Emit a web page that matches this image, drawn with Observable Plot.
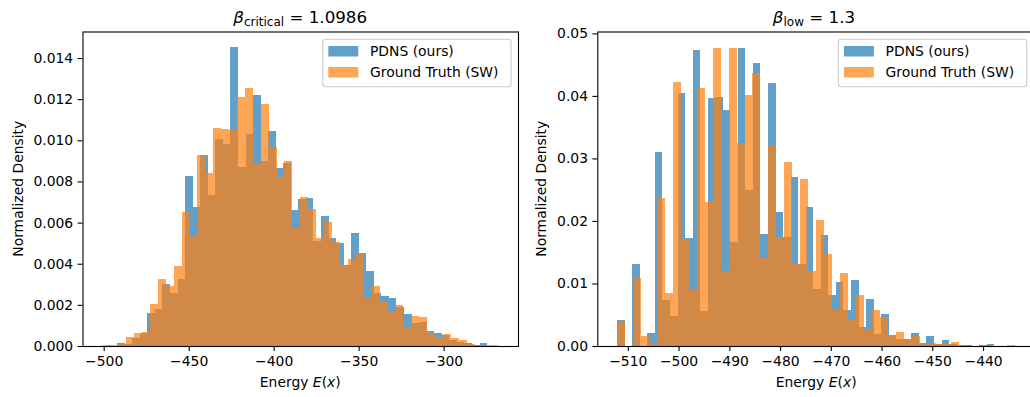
<!DOCTYPE html>
<html>
<head>
<meta charset="utf-8">
<script src="https://cdn.jsdelivr.net/npm/d3@7"></script>
<script src="https://cdn.jsdelivr.net/npm/@observablehq/plot@0.6"></script>
<style>
  html, body { margin: 0; padding: 0; background: white; overflow: hidden; width: 1030px; height: 397px; }
  #wrap { position: relative; width: 1040px; height: 397px; font-family: "DejaVu Sans", sans-serif; }
  .panel { position: absolute; top: 0; }
  #overlay { position: absolute; left: 0; top: 0; pointer-events: none; }
</style>
</head>
<body>
<div id="wrap">
  <div class="panel" id="p1" style="left:0px"></div>
  <div class="panel" id="p2" style="left:520px"></div>
</div>
<script>
// ---------------- DATA ----------------
const seriesNames = ["PDNS (ours)", "Ground Truth (SW)"];
const panelTitles = [["β", "critical", " = 1.0986"], ["β", "low", " = 1.3"]];

// Left panel (beta critical): histogram bin starts / widths (energy units) and densities
const leftBlueStart = -492.06, leftBlueWidth = 4.441;
const leftBlue = [
  0.00013, 0.0001, 0.00039, 0.00065, 0.00161, 0.0018, 0.003, 0.00256, 0.00324, 0.00827,
  0.00677, 0.00929, 0.00735, 0.01008, 0.00984, 0.01455, 0.00868, 0.0103, 0.0122, 0.009,
  0.01045, 0.00863, 0.0089, 0.00663, 0.00715, 0.0072, 0.0051, 0.00634, 0.00526, 0.00503,
  0.00392, 0.00548, 0.00452, 0.00363, 0.0026, 0.00241, 0.00232, 0.0019, 0.00154, 0.00113,
  0.00117, 0.00072, 0.00064, 0.00053, 0.0003, 0.0002, 0.00013, 0.00003, 0.00013, 0.00002
];
const leftOrangeStart = -500.82, leftOrangeWidth = 4.66;
const leftOrange = [
  0.00004, 0.00004, 0.0001, 0.000435, 0.00061, 0.00068, 0.00206, 0.00324, 0.0029, 0.00387,
  0.00653, 0.00534, 0.00929, 0.00842, 0.0106, 0.01055, 0.0105, 0.0121, 0.01252, 0.00884,
  0.01176, 0.00968, 0.00823, 0.009, 0.00573, 0.00726, 0.00666, 0.00526, 0.00602, 0.00505,
  0.00392, 0.00424, 0.00452, 0.00234, 0.0029, 0.00217, 0.00169, 0.00198, 0.0009, 0.00145,
  0.0014, 0.00064, 0.00043, 0.00058, 0.00039, 0.00029, 0.00008, 0.00006, 0.00004, 0.00004
];

// Right panel (beta low)
const rightBlueStart = -512.09, rightBlueWidth = 1.486;
const rightBlue = [
  0.00415, 0, 0.01309, 0, 0.00207, 0.031, 0.00734, 0.00479, 0.0405, 0.01723,
  0.0474, 0.00559, 0.0396, 0.0399, 0.0378, 0.0166, 0.0477, 0.0249, 0.0453, 0.01787,
  0.042, 0.0214, 0.0174, 0.0271, 0.0131, 0.0222, 0.00915, 0.0177, 0.0081, 0.0102,
  0.00574, 0.01053, 0.003, 0.0075, 0.0019, 0.0051, 0.00176, 0.0011, 0.00117, 0.00207,
  0.00043, 0.0016, 0.00032, 0.00096, 0.00032, 0.00016, 0.00016, 0, 0.00016, 0.00032
];
const rightOrangeStart = -512.09, rightOrangeWidth = 1.568;
const rightOrange = [
  0.00383, 0, 0.01085, 0.0016, 0.0005, 0.0236, 0.00846, 0.0423, 0.01707, 0.00894,
  0.0412, 0.0231, 0.0477, 0.01197, 0.0477, 0.0324, 0.0402, 0.0437, 0.014, 0.0322,
  0.0174, 0.0295, 0.01309, 0.02665, 0.012, 0.0201, 0.0147, 0.00585, 0.01165, 0.00415,
  0.00814, 0.00266, 0.00574, 0.00457, 0.00176, 0.00223, 0.00106, 0.0016, 0.00043, 0.00043,
  0.00032, 0.0003, 0.00064, 0.0001, 0.00005, 0, 0.00005, 0, 0, 0.00008
];

// Tick labels
const leftXTicks = [-500, -450, -400, -350, -300];
const leftYTicks = [0, 0.002, 0.004, 0.006, 0.008, 0.010, 0.012, 0.014];
const rightXTicks = [-510, -500, -490, -480, -470, -460, -450, -440];
const rightYTicks = [0, 0.01, 0.02, 0.03, 0.04, 0.05];

const xLabelParts = [["Energy ", false], ["E", true], ["(", false], ["x", true], [")", false]];
const yLabel = "Normalized Density";

// ---------------- BUILD ----------------
const BLUE = "#1f77b4", ORANGE = "#ff7f0e";
function bins(start, width, values) {
  return values.map((v, i) => ({x1: start + i * width, x2: start + (i + 1) * width, y1: 0, y2: v}));
}

function panel({blue, orange, xDomain, yDomain, xTicks, yTicks, yFmt, marginLeft, marginRight}) {
  return Plot.plot({
    width: 520, height: 397,
    marginLeft, marginRight, marginTop: 31.5, marginBottom: 51,
    x: {domain: xDomain},
    y: {domain: yDomain},
    style: {fontFamily: "DejaVu Sans", fontSize: "13.9px", color: "black", background: "transparent", overflow: "visible"},
    marks: [
      Plot.rect(blue, {x1: "x1", x2: "x2", y1: "y1", y2: "y2", fill: BLUE, fillOpacity: 0.7, inset: 0, shapeRendering: "crispEdges"}),
      Plot.rect(orange, {x1: "x1", x2: "x2", y1: "y1", y2: "y2", fill: ORANGE, fillOpacity: 0.7, inset: 0, shapeRendering: "crispEdges"}),
      Plot.frame({stroke: "black", strokeWidth: 1.1}),
      Plot.axisX({ticks: xTicks, tickFormat: d3.format("d"), tickSize: 4.9, tickPadding: 4.9, strokeWidth: 1.1, label: null, fontSize: "13.9px"}),
      Plot.axisY({ticks: yTicks, tickFormat: d3.format(yFmt), tickSize: 4.9, tickPadding: 4.9, strokeWidth: 1.1, label: null, fontSize: "13.9px"})
    ]
  });
}

document.getElementById("p1").append(panel({
  blue: bins(leftBlueStart, leftBlueWidth, leftBlue),
  orange: bins(leftOrangeStart, leftOrangeWidth, leftOrange),
  xDomain: [-512.47, -256.25], yDomain: [0, 0.01529],
  xTicks: leftXTicks, yTicks: leftYTicks, yFmt: ".3f",
  marginLeft: 82.5, marginRight: 2
}));
document.getElementById("p2").append(panel({
  blue: bins(rightBlueStart, rightBlueWidth, rightBlue),
  orange: bins(rightOrangeStart, rightOrangeWidth, rightOrange),
  xDomain: [-516.01, -429.77], yDomain: [0, 0.0503],
  xTicks: rightXTicks, yTicks: rightYTicks, yFmt: ".2f",
  marginLeft: 77.3, marginRight: 5
}));

// ---------------- OVERLAY TEXT (titles, axis labels, legends) ----------------
const ov = d3.select("#wrap").append("svg").attr("id", "overlay")
  .attr("width", 1040).attr("height", 397)
  .style("font-family", "DejaVu Sans").style("fill", "black");

const axesBoxes = [{left: 82.5, right: 518, labelX: 22.5, legendX: 322.7}, {left: 597.3, right: 1035, labelX: 545.5, legendX: 838.3}];
const titleCenters = [300.2, 814];

axesBoxes.forEach((b, i) => {
  const cx = (b.left + b.right) / 2;
  // title
  const t = ov.append("text").attr("x", titleCenters[i]).attr("y", 23.3).attr("text-anchor", "middle").style("font-size", "16.7px");
  t.append("tspan").text(panelTitles[i][0]).style("font-style", "italic");
  t.append("tspan").text(panelTitles[i][1]).style("font-size", "12px").attr("dy", 3);
  t.append("tspan").text(panelTitles[i][2]).attr("dy", -3);
  // x label
  const xl = ov.append("text").attr("x", cx).attr("y", 387).attr("text-anchor", "middle").style("font-size", "13.9px");
  xLabelParts.forEach(([s, it]) => xl.append("tspan").text(s).style("font-style", it ? "italic" : "normal"));
  // y label
  ov.append("text").attr("transform", `translate(${b.labelX},188.75) rotate(-90)`).attr("text-anchor", "middle")
    .style("font-size", "13.9px").text(yLabel);
  // legend
  const lg = ov.append("g").attr("transform", `translate(${b.legendX},39.3)`);
  lg.append("rect").attr("x", 0).attr("y", 0).attr("width", 188.4).attr("height", 47.4).attr("rx", 3)
    .attr("fill", "white").attr("fill-opacity", 0.8).attr("stroke", "#cccccc").attr("stroke-width", 1.1);
  [BLUE, ORANGE].forEach((c, j) => {
    lg.append("rect").attr("x", 5.6).attr("y", 6.7 + j * 21).attr("width", 30).attr("height", 10.5)
      .attr("fill", c).attr("fill-opacity", 0.7);
    lg.append("text").attr("x", 47.3).attr("y", 16.9 + j * 21).style("font-size", "13.9px").text(seriesNames[j]);
  });
});
</script>
</body>
</html>
